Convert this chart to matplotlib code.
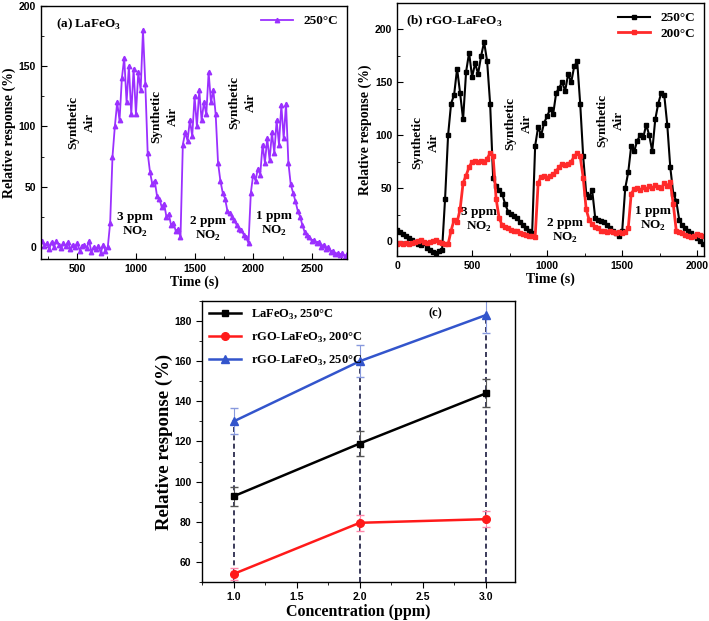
import numpy as np
import matplotlib
matplotlib.use("Agg")
from matplotlib import pyplot as plt
from matplotlib.ticker import MultipleLocator

# ---- panel (a): LaFeO3 at 250 C, sampled every 20 s from 200 s
a_t0, a_dt = 200, 20
a_250 = [5, 1, 3, -2, 4, 0, 5, 2, -1, 3, 1, 4, -2, 2, 0, 3, -3, 1, 2, -1,
         5, -4, 0, -2, 1, -5, 2, -3, 0,
         20, 75, 100, 120, 105, 140, 157, 120, 150, 110, 148, 110, 145, 130,
         180, 135,
         78, 62, 52, 55, 42, 40, 33, 36, 25, 27, 18, 20, 13, 15, 8,
         85, 95, 88, 105, 92, 125, 100, 130, 105, 120, 110, 145, 120, 130, 110,
         70, 55, 45, 40, 30, 28, 25, 22, 18, 15, 14, 10, 8, 3,
         45, 60, 55, 65, 60, 85, 70, 90, 72, 95, 78, 105, 85, 118, 90, 119,
         70, 52, 45, 38, 30, 25, 18, 12, 10, 8, 5, 6, 3, 4, 0, 2, -2, 0, -4,
         -3, -6, -5, -7, -5, -8, -6, -7]

# ---- panel (b): rGO-LaFeO3, sampled every 20 s from 0 s
b_t0, b_dt = 0, 20
b_250 = [11, 9, 7, 5, 3, 1, -1, -3, -4, -2, -6, -8, -10, -11, -9, -8,
         40, 100, 130, 138, 163, 140, 115, 160, 178, 155, 168, 158, 175, 188,
         170, 130, 60, 52, 48, 45, 35, 28, 26, 24, 22, 18, 15, 12, 10, 8,
         90, 108, 100, 112, 118, 125, 120, 140, 145, 150, 142, 158, 150, 165,
         170, 130, 80, 45, 42, 48, 22, 20, 19, 18, 15, 12, 10, 8, 5, 10,
         50, 65, 90, 85, 95, 100, 98, 110, 100, 85, 115, 130, 140, 138, 110,
         70, 45, 38, 20, 15, 12, 10, 8, 5, 3, 0, -3]
b_200 = [-3, -2, -3, -2, -3, -2, -1, 0, 1, -1, -2, -1, 0, 1, -1, -2, -3, -3,
         10, 20, 18, 30, 55, 62, 70, 75, 76, 75, 76, 75, 78, 83, 80,
         40, 22, 15, 13, 12, 11, 10, 10, 8, 7, 6, 5, 5, 4,
         55, 61, 62, 60, 62, 63, 66, 70, 73, 72, 73, 75, 80, 83, 80,
         60, 30, 20, 16, 13, 12, 10, 10, 9, 10, 9, 8, 9, 8, 9, 12,
         45, 49, 50, 48, 51, 49, 52, 50, 53, 51, 50, 55, 52, 56,
         35, 10, 9, 8, 6, 5, 4, 5, 7, 6, 5]

# ---- panel (c): response vs concentration
conc = [1.0, 2.0, 3.0]
la_250 = [92.7, 119.0, 144.0]
la_250_err = [4.8, 6.0, 7.0]
rgo_200 = [54.0, 79.5, 81.3]
rgo_200_err = [3.0, 4.0, 4.0]
rgo_250 = [130.0, 160.0, 183.0]
rgo_250_err = [6.5, 8.0, 9.0]

SERIF = "Liberation Serif"
SANS = "Liberation Sans"
PURPLE = "#9b30ff"

plt.rcParams["font.family"] = SERIF
plt.rcParams["font.weight"] = "bold"
plt.rcParams["axes.linewidth"] = 1.0
plt.rcParams["mathtext.fontset"] = "custom"
plt.rcParams["mathtext.rm"] = "Liberation Serif:bold"
plt.rcParams["mathtext.bf"] = "Liberation Serif:bold"


def style_ticks(ax, direction, size=7.5):
    ax.tick_params(which="both", direction=direction, labelsize=size)
    ax.tick_params(which="major", length=4)
    ax.tick_params(which="minor", length=2)
    for lab in ax.get_xticklabels() + ax.get_yticklabels():
        lab.set_fontfamily(SANS)
        lab.set_fontweight("bold")


def gas_labels(ax, air_pos, ppm_pos):
    for x, y in air_pos:
        ax.text(x, y, "Synthetic\nAir", rotation=90, ha="center", va="center",
                fontsize=9.5, fontweight="bold", linespacing=1.5)
    for (x, y), n in zip(ppm_pos, ["3", "2", "1"]):
        ax.text(x, y, f"{n} ppm\nNO$_2$", ha="center", va="center",
                fontsize=9.5, fontweight="bold")


fig = plt.figure(figsize=(7.09, 6.21), dpi=100)

# (a)
ax1 = fig.add_axes([0.0578, 0.583, 0.4316, 0.4074])
ta = a_t0 + a_dt * np.arange(len(a_250))
ax1.plot(ta, a_250, "-^", color=PURPLE, lw=1.3, ms=3.2, label="250°C")
ax1.set_xlim(190, 2800)
ax1.set_ylim(-10, 200)
ax1.xaxis.set_major_locator(MultipleLocator(500))
ax1.xaxis.set_minor_locator(MultipleLocator(250))
ax1.yaxis.set_major_locator(MultipleLocator(50))
ax1.yaxis.set_minor_locator(MultipleLocator(25))
ax1.set_xlabel("Time (s)", fontsize=10, fontweight="bold", labelpad=1)
ax1.set_ylabel("Relative response (%)", fontsize=10, fontweight="bold", labelpad=2)
ax1.text(0.05, 0.915, "(a) LaFeO$_3$", transform=ax1.transAxes,
         fontsize=9.5, fontweight="bold")
gas_labels(ax1, [(540, 103), (1245, 108), (1910, 120)],
           [(990, 18), (1612, 15), (2181, 19)])
ax1.legend(loc="upper right", frameon=False, fontsize=9.5, handlelength=2.4,
           borderaxespad=0.3)
style_ticks(ax1, "in")

# (b)
ax2 = fig.add_axes([0.560, 0.5878, 0.433, 0.4074])
tb = b_t0 + b_dt * np.arange(len(b_250))
ax2.plot(tb, b_250, "-s", color="black", lw=1.5, ms=2.2, label="250°C")
ax2.plot(tb, b_200, "-s", color="#ff2a2a", lw=2.0, ms=2.2, label="200°C")
ax2.set_xlim(0, 2045)
ax2.set_ylim(-14, 225)
ax2.xaxis.set_major_locator(MultipleLocator(500))
ax2.xaxis.set_minor_locator(MultipleLocator(250))
ax2.yaxis.set_major_locator(MultipleLocator(50))
ax2.yaxis.set_minor_locator(MultipleLocator(25))
ax2.set_xlabel("Time (s)", fontsize=10, fontweight="bold", labelpad=1)
ax2.set_ylabel("Relative response (%)", fontsize=10, fontweight="bold", labelpad=2)
ax2.text(0.03, 0.915, "(b) rGO-LaFeO$_3$", transform=ax2.transAxes,
         fontsize=9.5, fontweight="bold")
gas_labels(ax2, [(190, 93), (808, 111), (1420, 114)],
           [(548, 20), (1118, 10), (1705, 21)])
ax2.legend(loc="upper right", frameon=False, fontsize=9.5, handlelength=2.4,
           borderaxespad=0.3, labelspacing=0.25)
style_ticks(ax2, "in")

# (c)
ax3 = fig.add_axes([0.2849, 0.0628, 0.4415, 0.4525])
ax3.vlines(conc, 50, rgo_250, colors="#1a1a40", linestyles=(0, (3, 2)), lw=1.2,
           zorder=1)
series_c = [
    (la_250, la_250_err, "s", "black", "#555555", "LaFeO$_3$, 250°C", 5),
    (rgo_200, rgo_200_err, "o", "#ff1a1a", "#ff88aa", "rGO-LaFeO$_3$, 200°C", 5.5),
    (rgo_250, rgo_250_err, "^", "#3355cc", "#8899dd", "rGO-LaFeO$_3$, 250°C", 6),
]
for vals, errs, mk, col, ecol, lab, ms in series_c:
    ax3.errorbar(conc, vals, yerr=errs, fmt="none", ecolor=ecol, capsize=3,
                 elinewidth=0.8, zorder=2)
    ax3.plot(conc, vals, "-" + mk, color=col, lw=1.8, ms=ms, label=lab, zorder=3)
ax3.set_xlim(0.75, 3.23)
ax3.set_ylim(50, 190)
ax3.xaxis.set_major_locator(MultipleLocator(0.5))
ax3.xaxis.set_minor_locator(MultipleLocator(0.25))
ax3.yaxis.set_major_locator(MultipleLocator(20))
ax3.yaxis.set_minor_locator(MultipleLocator(10))
ax3.set_xlabel("Concentration (ppm)", fontsize=11.5, fontweight="bold", labelpad=1)
ax3.set_ylabel("Relative response (%)", fontsize=13.5, fontweight="bold", labelpad=1)
ax3.text(2.6, 184, "(c)", fontsize=9, fontweight="bold", ha="center", va="center")
ax3.legend(loc="upper left", frameon=False, fontsize=9, handlelength=2.6,
           borderaxespad=0.15, labelspacing=0.7)
style_ticks(ax3, "out", 7.5)

fig.savefig("out.png", dpi=100)
